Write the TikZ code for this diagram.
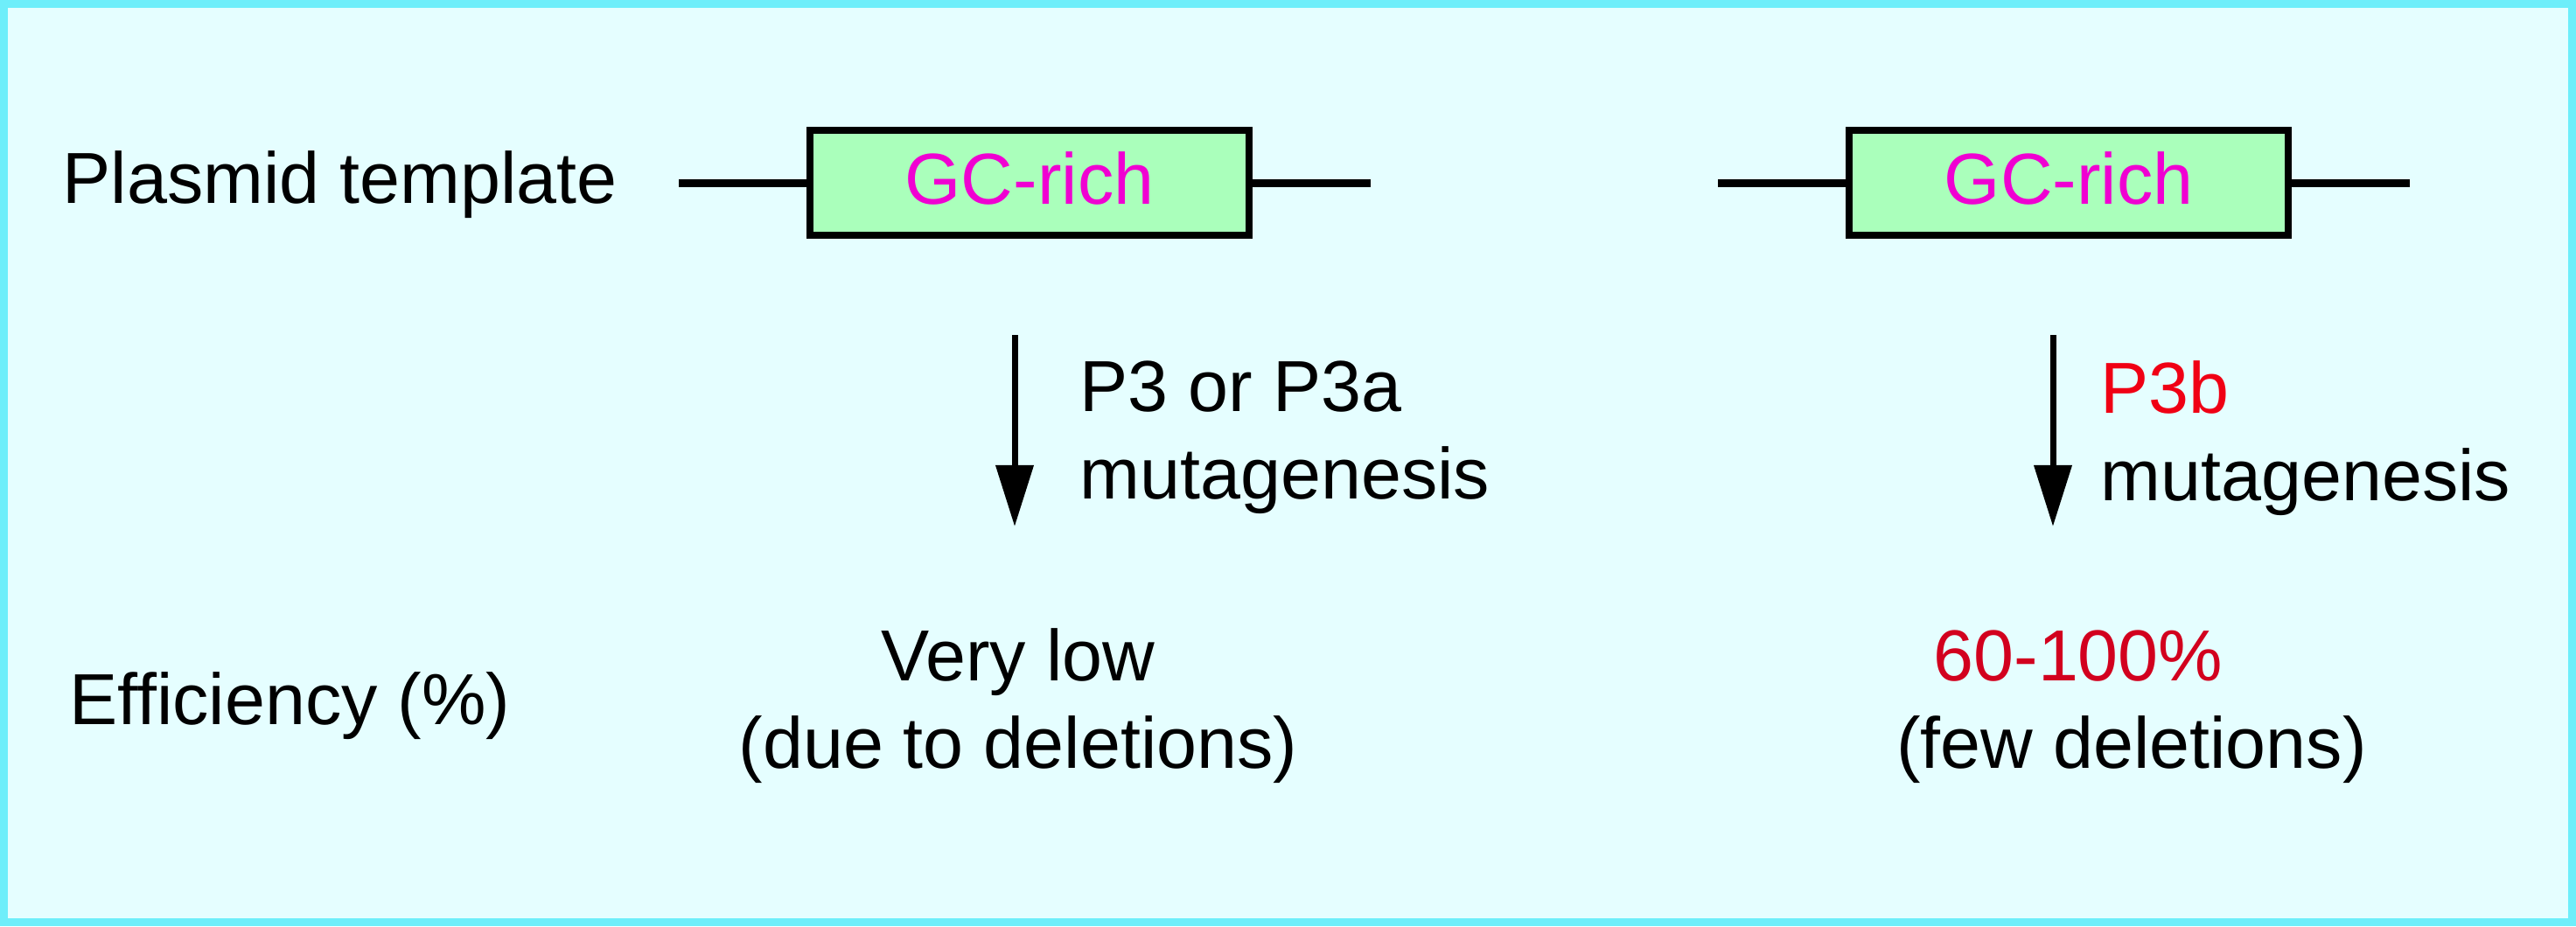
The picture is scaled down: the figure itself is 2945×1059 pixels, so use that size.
\documentclass[tikz,border=0pt]{standalone}
\usepackage{fontspec}
\setmainfont{Liberation Sans}
\usetikzlibrary{arrows.meta, positioning}

\definecolor{panelbg}{RGB}{229,254,255}
\definecolor{panelframe}{RGB}{110,238,250}
\definecolor{gcfill}{RGB}{170,255,187}
\definecolor{gcpink}{RGB}{240,0,210}
\definecolor{hotred}{RGB}{240,0,20}
\definecolor{effred}{RGB}{210,0,30}

\begin{document}
\begin{tikzpicture}[x=0.01cm, y=-0.01cm,
    txt/.style={inner sep=0pt, font=\fontsize{23.5}{28.45}\selectfont},
    gcbox/.style={draw, line width=0.08cm, fill=gcfill, minimum width=5.01cm,
        minimum height=1.2cm, inner sep=0pt, text height=0.6cm, text depth=0.12cm,
        text=gcpink, font=\fontsize{23.5}{28.45}\selectfont},
    dna/.style={line width=0.09cm},
    mutarrow/.style={line width=0.07cm, -{Stealth[length=0.7cm, width=0.42cm, inset=0pt]}}]

	% panel: light background with a cyan frame
	\useasboundingbox (0,0) rectangle (2945,1059);
	\fill[panelbg] (0,0) rectangle (2945,1059);
	\draw[panelframe, line width=0.09cm] (4.5,4.5) rectangle (2940.5,1054.5);

	% row labels
	\node[txt, anchor=base west] (plasmid) at (71,232) {Plasmid template};
	\node[txt, anchor=base west] (effic) at (79,828) {Efficiency (\%)};

	% left template: GC-rich stretch in the plasmid
	\node[gcbox] (gcL) at (1177,209) {GC-rich};
	\coordinate (gcLin) at (776,209);
	\coordinate (gcLout) at (1567,209);
	\draw[dna] (gcLin) -- (gcL.west);
	\draw[dna] (gcL.east) -- (gcLout);

	% right template
	\node[gcbox] (gcR) at (2365,209) {GC-rich};
	\coordinate (gcRin) at (1964,209);
	\coordinate (gcRout) at (2755,209);
	\draw[dna] (gcRin) -- (gcR.west);
	\draw[dna] (gcR.east) -- (gcRout);

	% mutagenesis steps
	\coordinate (mutLtop) at (1160,383);
	\coordinate (mutLend) at (1160,602);
	\draw[mutarrow] (mutLtop) -- (mutLend);
	\node[txt, anchor=north west, align=left] (mutL) at (1234,412) {P3 or P3a\\mutagenesis};

	\coordinate (mutRtop) at (2347,383);
	\coordinate (mutRend) at (2347,602);
	\draw[mutarrow] (mutRtop) -- (mutRend);
	\node[txt, anchor=north west, align=left] (mutR) at (2401,412) {\textcolor{hotred}{P3b}\\mutagenesis};

	% efficiencies
	\node[txt, anchor=north, align=center] (lowL) at (1164,718) {Very low\\(due to deletions)};
	\node[txt, anchor=base, text=effred] (highR) at (2376,778) {60-100\%};
	\node[txt, anchor=base] (fewR) at (2437,878) {(few deletions)};

\end{tikzpicture}
\end{document}
